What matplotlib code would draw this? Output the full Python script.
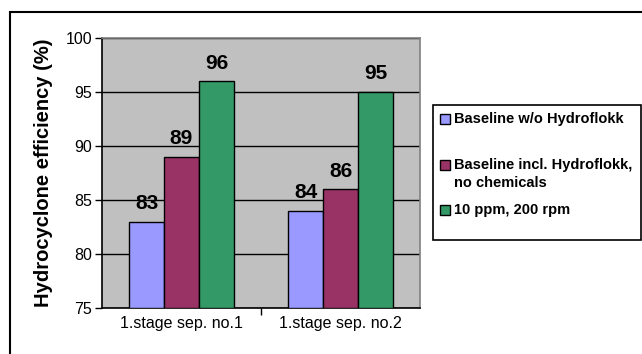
import numpy as np
import matplotlib.pyplot as plt
from matplotlib.patches import Rectangle

plt.rcParams['font.family'] = ['Liberation Sans', 'DejaVu Sans']

categories = ["1.stage sep. no.1", "1.stage sep. no.2"]
series_names = ["Baseline w/o Hydroflokk",
                "Baseline incl. Hydroflokk,\nno chemicals",
                "10 ppm, 200 rpm"]
baseline = [83, 84]
baseline_hf = [89, 86]
ppm10 = [96, 95]
colors = ["#9999ff", "#993366", "#339966"]

W, H = 642, 354
fig = plt.figure(figsize=(W / 100, H / 100), dpi=100)


def fx(px):
    return px / W


def fy(py):
    return 1 - py / H


# outer chart border (runs off the right and bottom edge)
fig.patches.append(Rectangle((fx(10), -0.1), 1.2, fy(12) + 0.1,
                             transform=fig.transFigure, fill=False,
                             edgecolor="black", linewidth=1.5))

ax = fig.add_axes([fx(102), fy(308), fx(420 - 102), (308 - 38) / H])
ax.set_facecolor("#c0c0c0")

x = np.arange(len(categories))
bw = 0.22
for i, vals in enumerate([baseline, baseline_hf, ppm10]):
    ax.bar(x + (i - 1) * bw, np.array(vals) - 75, bw, bottom=75,
           color=colors[i], edgecolor="black", linewidth=1,
           label=series_names[i], zorder=3)
    for xi, v in zip(x + (i - 1) * bw, vals):
        ax.text(xi, v + 0.8, str(v), ha="center", va="bottom",
                fontsize=15, fontweight="bold", zorder=4)

ax.set_xlim(-0.5, 1.5)
ax.set_ylim(75, 100)
ax.set_yticks(np.arange(75, 101, 5))
ax.yaxis.grid(True, color="black", linewidth=1, zorder=1)
ax.set_axisbelow(True)
ax.set_xticks([0.5])
ax.set_xticklabels([])
ax.set_xticks(x, minor=True)
ax.set_xticklabels(categories, minor=True, fontsize=11.5)
ax.tick_params(axis="x", which="minor", length=0, pad=6)
ax.tick_params(axis="x", which="major", length=5, width=1, direction="out")
ax.tick_params(axis="y", length=5, width=1, direction="out", labelsize=11.5, pad=2)

for s in ["left", "bottom"]:
    ax.spines[s].set_color("black")
    ax.spines[s].set_linewidth(1.2)
for s in ["top", "right"]:
    ax.spines[s].set_color("#808080")
    ax.spines[s].set_linewidth(1.2)

ax.set_ylabel("Hydrocyclone efficiency (%)", fontsize=14.5, fontweight="bold",
              labelpad=9)

# legend box, entries placed by hand
fig.patches.append(Rectangle((fx(433), fy(240)), fx(641 - 433), (240 - 105) / H,
                             transform=fig.transFigure, facecolor="white",
                             edgecolor="black", linewidth=1.2))
entry_y = [119, 165, 210]
for name, col, yc in zip(series_names, colors, entry_y):
    fig.patches.append(Rectangle((fx(440), fy(yc + 5)), fx(10), 10 / H,
                                 transform=fig.transFigure, facecolor=col,
                                 edgecolor="black", linewidth=1))
    for k, line in enumerate(name.split("\n")):
        fig.text(fx(454), fy(yc + 18 * k), line, ha="left", va="center",
                 fontsize=10.5, fontweight="bold")

fig.savefig("out.png", dpi=100)
